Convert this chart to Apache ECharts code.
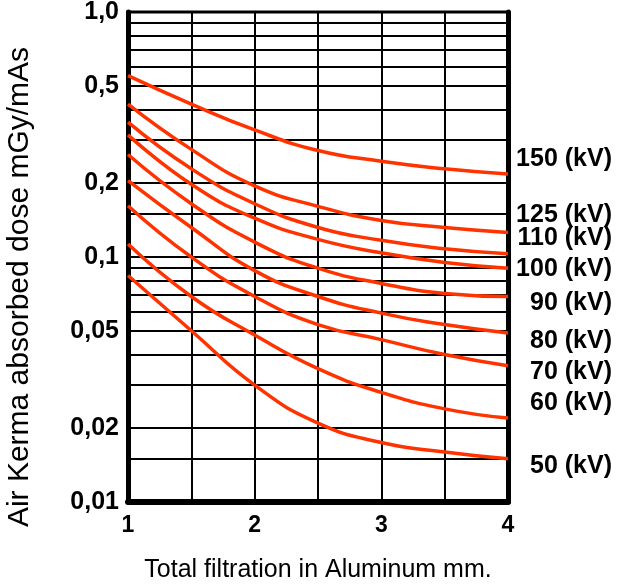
<!DOCTYPE html>
<html>
<head>
<meta charset="utf-8">
<script src="https://cdn.jsdelivr.net/npm/echarts@6/dist/echarts.min.js"></script>
<style>
  html, body { margin: 0; padding: 0; background: #fff; }
  #chart { width: 617px; height: 586px; }
</style>
</head>
<body>
<div id="chart"></div>
<script>
// Chart Data
const filtration = [1, 1.5, 2, 2.5, 3, 3.5, 4];
const kv150 = [0.550, 0.421, 0.330, 0.272, 0.246, 0.229, 0.218];
const kv125 = [0.421, 0.275, 0.195, 0.161, 0.141, 0.132, 0.126];
const kv110 = [0.355, 0.229, 0.165, 0.132, 0.117, 0.108, 0.103];
const kv100 = [0.315, 0.198, 0.144, 0.118, 0.104, 0.095, 0.090];
const kv90 = [0.262, 0.165, 0.115, 0.090, 0.078, 0.071, 0.069];
const kv80 = [0.205, 0.132, 0.088, 0.069, 0.059, 0.053, 0.049];
const kv70 = [0.162, 0.100, 0.069, 0.053, 0.046, 0.040, 0.036];
const kv60 = [0.113, 0.069, 0.048, 0.035, 0.028, 0.024, 0.022];
const kv50 = [0.084, 0.050, 0.030, 0.021, 0.0175, 0.016, 0.015];

const seriesNames = ["150 (kV)", "125 (kV)", "110 (kV)", "100 (kV)", "90 (kV)", "80 (kV)", "70 (kV)", "60 (kV)", "50 (kV)"];
const seriesValues = [kv150, kv125, kv110, kv100, kv90, kv80, kv70, kv60, kv50];

const yGridValues = [0.01, 0.015, 0.02, 0.03, 0.04, 0.05, 0.06, 0.07, 0.08, 0.09,
  0.1, 0.15, 0.2, 0.3, 0.4, 0.5, 0.6, 0.7, 0.8, 0.9, 1];
const yLabelValues = [0.01, 0.02, 0.05, 0.1, 0.2, 0.5, 1];

// vertical nudges for the right-hand kV labels
const labelShift = [-15, -17, -16, 1, 7, 8, 6, -15, 7];

// Chart Functionalities
const chartElem = document.getElementById("chart");
let chart = echarts.init(chartElem, null, { renderer: "canvas" });

const FONT = "Liberation Sans";
const RED = "#ff3300";

let series = seriesNames.map(function (name, i) {
  return {
    name: name,
    type: "line",
    smooth: true,
    symbol: "none",
    yAxisIndex: 0,
    lineStyle: { color: RED, width: 3.5 },
    endLabel: {
      show: true,
      formatter: name,
      align: "right",
      distance: 0,
      offset: [104, labelShift[i]],
      color: "#000",
      fontFamily: FONT,
      fontWeight: "bold",
      fontSize: 25,
    },
    data: filtration.map(function (x, j) {
      return [x, seriesValues[i][j]];
    }),
  };
});

let option = {
  backgroundColor: "#fff",
  animation: false,
  grid: {
    left: 128,
    right: 109,
    top: 12,
    bottom: 84,
    outerBoundsMode: "none",
    containLabel: false,
    show: true,
    borderColor: "#000",
    borderWidth: 3,
  },
  xAxis: {
    type: "value",
    min: 1,
    max: 4,
    interval: 0.5,
    name: "Total filtration in Aluminum mm.",
    nameLocation: "middle",
    nameGap: 56,
    nameTextStyle: { color: "#000", fontFamily: FONT, fontSize: 25 },
    axisLine: { show: true, onZero: false, lineStyle: { color: "#000", width: 6 } },
    axisTick: { show: false },
    axisLabel: {
      color: "#000",
      fontFamily: FONT,
      fontWeight: "bold",
      fontSize: 23,
      margin: 12,
      formatter: function (v) {
        return Number.isInteger(v) ? String(v) : "";
      },
    },
    splitLine: { show: true, lineStyle: { color: "#000", width: 2 } },
  },
  yAxis: [
    {
      type: "log",
      logBase: 10,
      min: 0.01,
      max: 1,
      name: "Air Kerma absorbed dose mGy/mAs",
      nameLocation: "middle",
      nameGap: 93,
      nameTextStyle: {
        color: "#000",
        fontFamily: FONT,
        fontSize: 30,
        padding: [0, 60, 0, 0],
      },
      axisLine: { show: true, lineStyle: { color: "#000", width: 5 } },
      axisTick: { show: false, customValues: yGridValues },
      axisLabel: {
        customValues: yLabelValues,
        color: "#000",
        fontFamily: FONT,
        fontWeight: "bold",
        fontSize: 25,
        margin: 9,
        formatter: function (v) {
          return v === 1 ? "1,0" : String(v).replace(".", ",");
        },
      },
      splitLine: { show: true, lineStyle: { color: "#000", width: 2 } },
    },
    {
      type: "log",
      logBase: 10,
      min: 0.01,
      max: 1,
      position: "right",
      axisLine: { show: true, lineStyle: { color: "#000", width: 5 } },
      axisTick: { show: false },
      axisLabel: { show: false },
      splitLine: { show: false },
    },
  ],
  series: series,
};

chart.setOption(option);
</script>
</body>
</html>
